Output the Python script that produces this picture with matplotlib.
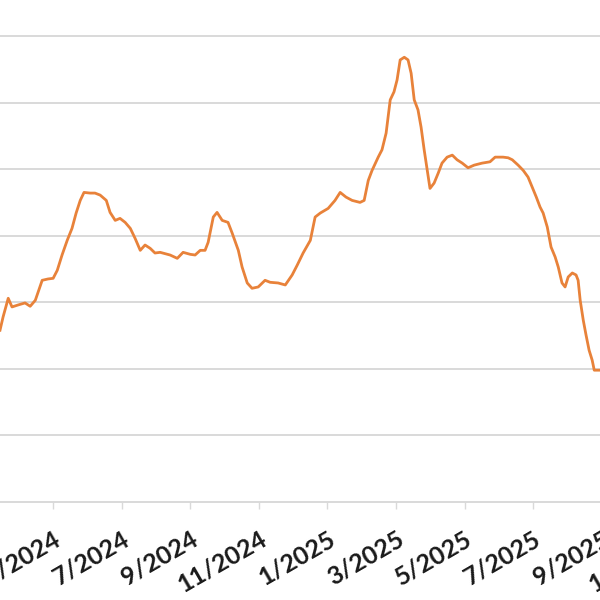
import matplotlib
matplotlib.use("Agg")
import matplotlib.pyplot as plt

# month index counted from 1/2024 = 0 (so 5/2024 = 4)
months = [2.45, 2.54, 2.69, 2.80, 2.98, 3.18, 3.33, 3.48, 3.68, 3.85, 4.00, 4.12,
          4.26, 4.41, 4.55, 4.67, 4.79, 4.90, 5.08, 5.22, 5.37, 5.55, 5.66, 5.81,
          5.95, 6.10, 6.25, 6.39, 6.54, 6.68, 6.83, 6.97, 7.12, 7.41, 7.62, 7.79,
          8.00, 8.14, 8.29, 8.43, 8.52, 8.67, 8.78, 8.93, 9.10, 9.22, 9.40, 9.51,
          9.66, 9.80, 9.98, 10.18, 10.33, 10.56, 10.77, 10.97, 11.12, 11.29, 11.50,
          11.64, 11.79, 12.02, 12.22, 12.37, 12.54, 12.72, 12.95, 13.07, 13.19,
          13.30, 13.48, 13.59, 13.71, 13.83, 13.94, 14.03, 14.12, 14.24, 14.35,
          14.44, 14.53, 14.64, 14.73, 14.82, 14.94, 14.99, 15.11, 15.23, 15.34,
          15.49, 15.64, 15.78, 15.93, 16.10, 16.28, 16.51, 16.74, 16.89, 17.12,
          17.27, 17.39, 17.56, 17.71, 17.85, 17.97, 18.09, 18.20, 18.29, 18.41,
          18.52, 18.64, 18.73, 18.84, 18.93, 19.02, 19.14, 19.25, 19.31, 19.37,
          19.46, 19.54, 19.63, 19.72, 19.78, 19.95]
values = [2.58, 2.78, 3.06, 2.93, 2.96, 2.99, 2.94, 3.03, 3.33, 3.35, 3.36, 3.48,
          3.71, 3.93, 4.11, 4.34, 4.53, 4.65, 4.64, 4.64, 4.61, 4.53, 4.35, 4.23,
          4.26, 4.20, 4.11, 3.96, 3.78, 3.86, 3.81, 3.74, 3.75, 3.71, 3.66, 3.75,
          3.72, 3.71, 3.78, 3.78, 3.90, 4.28, 4.35, 4.23, 4.20, 4.04, 3.78, 3.53,
          3.29, 3.21, 3.23, 3.33, 3.30, 3.29, 3.26, 3.41, 3.56, 3.74, 3.93,
          4.28, 4.34, 4.41, 4.53, 4.65, 4.58, 4.53, 4.50, 4.53, 4.83,
          4.98, 5.18, 5.29, 5.54, 6.04, 6.16, 6.34, 6.64, 6.68, 6.64,
          6.44, 6.04, 5.89, 5.63, 5.29, 4.88, 4.71, 4.79, 4.94, 5.09,
          5.18, 5.21, 5.14, 5.09, 5.02, 5.06, 5.09, 5.11, 5.18, 5.18,
          5.17, 5.14, 5.06, 4.98, 4.88, 4.73, 4.58, 4.43, 4.34, 4.13,
          3.83, 3.68, 3.53, 3.29, 3.23, 3.38, 3.44, 3.41, 3.33, 3.03,
          2.73, 2.51, 2.28, 2.13, 1.98, 1.98]

tick_months = [4, 6, 8, 10, 12, 14, 16, 18, 20, 22]
tick_labels = ["5/2024", "7/2024", "9/2024", "11/2024", "1/2025",
               "3/2025", "5/2025", "7/2025", "9/2025", "11/2025"]

LINE = "#E8823A"
GRID = "#D9D9D9"

fig = plt.figure(figsize=(6, 6), dpi=100)
# the picture is a crop: the axes run past the right edge of the figure
ax = fig.add_axes([0.0, 0.1633, 1.25, 0.8367])
ax.set_xlim(2.45, 2.45 + 1.25 * 600 / 34.29)
ax.set_ylim(0, 7.54)

ax.plot(months, values, color=LINE, lw=2.0, solid_joinstyle="round")

ax.set_yticks(range(1, 8))
ax.yaxis.grid(True, color=GRID, lw=1.4)
ax.tick_params(axis="y", left=False, labelleft=False)
ax.set_axisbelow(True)

ax.set_xticks(tick_months)
ax.set_xticklabels(tick_labels, rotation=30, ha="right", va="top",
                   rotation_mode="anchor", fontsize=18, fontweight="bold",
                   family=["Liberation Sans Narrow", "Lato"], color="#1a1a1a")
ax.tick_params(axis="x", direction="out", length=5, width=1, color=GRID, pad=13)

for s in ("top", "right", "left"):
    ax.spines[s].set_visible(False)
ax.spines["bottom"].set_color(GRID)
ax.spines["bottom"].set_linewidth(1.4)

fig.savefig("out.png", dpi=100)
